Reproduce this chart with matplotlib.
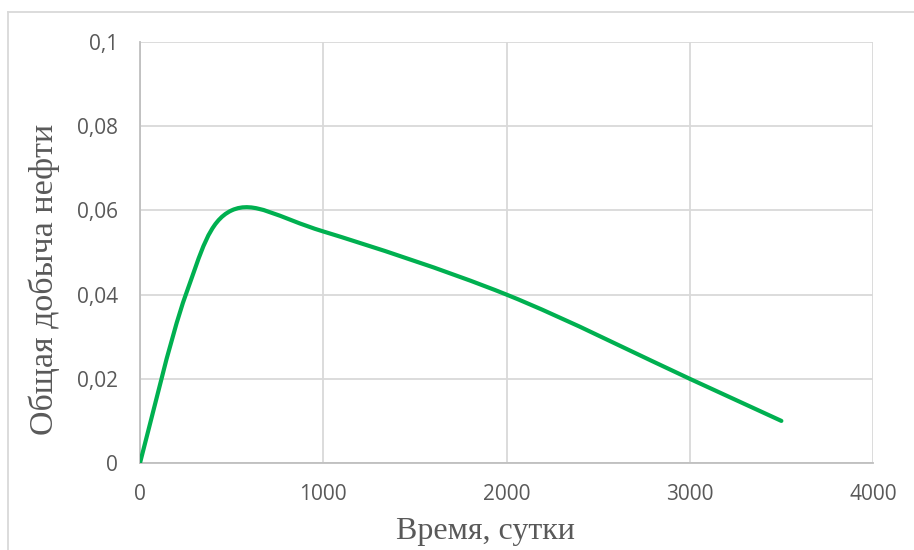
import matplotlib
matplotlib.use("Agg")
import matplotlib.pyplot as plt
from matplotlib.path import Path
from matplotlib.patches import PathPatch
from matplotlib.lines import Line2D

# data
days = [0, 250, 500, 1000, 2000, 3000, 3500]
oil = [0, 0.04, 0.06, 0.055, 0.04, 0.02, 0.01]
x_ticks = [0, 1000, 2000, 3000, 4000]
y_ticks = [0, 0.02, 0.04, 0.06, 0.08, 0.1]
y_tick_labels = ["0", "0,02", "0,04", "0,06", "0,08", "0,1"]

grid_col = "#D9D9D9"
text_col = "#595959"
line_col = "#00B050"


def smooth_path(xs, ys):
    # Excel-like smoothed line: cubic bezier through the points
    n = len(xs)
    verts = [(xs[0], ys[0])]
    codes = [Path.MOVETO]
    for i in range(n - 1):
        p0 = (xs[max(i - 1, 0)], ys[max(i - 1, 0)])
        p1 = (xs[i], ys[i])
        p2 = (xs[i + 1], ys[i + 1])
        p3 = (xs[min(i + 2, n - 1)], ys[min(i + 2, n - 1)])
        c1 = (p1[0] + (p2[0] - p0[0]) / 6, p1[1] + (p2[1] - p0[1]) / 6)
        c2 = (p2[0] - (p3[0] - p1[0]) / 6, p2[1] - (p3[1] - p1[1]) / 6)
        verts += [c1, c2, p2]
        codes += [Path.CURVE4] * 3
    return Path(verts, codes)


fig = plt.figure(figsize=(9.14, 5.5), dpi=100)
ax = fig.add_axes([140 / 914, 1 - 463 / 550, 733 / 914, 421 / 550])

ax.add_patch(PathPatch(smooth_path(days, oil), facecolor="none",
                       edgecolor=line_col, lw=3, capstyle="round", zorder=3))

ax.set_xlim(0, 4000)
ax.set_ylim(0, 0.1)
ax.set_xticks(x_ticks)
ax.set_yticks(y_ticks)
ax.set_yticklabels(y_tick_labels)
ax.grid(True, color=grid_col, lw=1.3)
ax.set_axisbelow(True)

for s in ["top", "right"]:
    ax.spines[s].set_visible(False)
for s in ["left", "bottom"]:
    ax.spines[s].set_color("#BFBFBF")
    ax.spines[s].set_linewidth(1.3)

ax.tick_params(length=0, labelsize=15, labelcolor=text_col)
ax.tick_params(axis="y", pad=16)
ax.tick_params(axis="x", pad=15)
for lab in ax.get_xticklabels() + ax.get_yticklabels():
    lab.set_family("Open Sans")

ax.set_xlabel("Время, сутки", family="Liberation Serif", fontsize=23,
              color=text_col, va="center")
ax.set_ylabel("Общая добыча нефти", family="Liberation Serif", fontsize=24.5,
              color=text_col, va="center")
ax.xaxis.set_label_coords(0.4707, -0.163)
ax.yaxis.set_label_coords(-0.131, 0.435)

# chart area border
fig.add_artist(Line2D([8 / 914, 8 / 914], [0, 1 - 12 / 550], color=grid_col, lw=1.3))
fig.add_artist(Line2D([8 / 914, 1], [1 - 12 / 550, 1 - 12 / 550], color=grid_col, lw=1.3))

fig.savefig("out.png", dpi=100)
